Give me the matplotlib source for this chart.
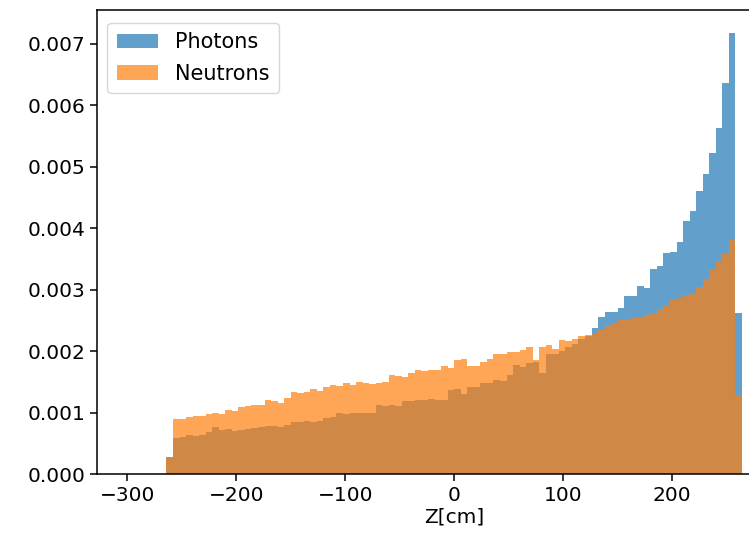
import numpy as np
import matplotlib
matplotlib.use("Agg")
import matplotlib.pyplot as plt

# Bin edges (cm)
bin_edges = np.arange(-264, 265, 6)

photons = [
    0.00028, 0.00058, 0.00060, 0.00063, 0.00062, 0.00064, 0.00069, 0.00076, 0.00072, 0.00074,
    0.00070, 0.00072, 0.00073, 0.00075, 0.00077, 0.00078, 0.00078, 0.00077, 0.00079, 0.00085,
    0.00084, 0.00086, 0.00085, 0.00087, 0.00091, 0.00092, 0.00099, 0.00098, 0.00100, 0.00099,
    0.00100, 0.00099, 0.00112, 0.00111, 0.00113, 0.00110, 0.00118, 0.00118, 0.00120, 0.00121,
    0.00122, 0.00120, 0.00121, 0.00137, 0.00138, 0.00130, 0.00142, 0.00142, 0.00148, 0.00148,
    0.00153, 0.00152, 0.00161, 0.00177, 0.00174, 0.00180, 0.00183, 0.00164, 0.00196, 0.00195,
    0.00200, 0.00206, 0.00212, 0.00220, 0.00224, 0.00237, 0.00256, 0.00264, 0.00264, 0.00270,
    0.00290, 0.00290, 0.00306, 0.00303, 0.00334, 0.00339, 0.00359, 0.00362, 0.00377, 0.00411,
    0.00428, 0.00460, 0.00488, 0.00522, 0.00563, 0.00636, 0.00718, 0.00262,
]

neutrons = [
    0.00028, 0.00089, 0.00089, 0.00092, 0.00094, 0.00095, 0.00097, 0.00100, 0.00098, 0.00104,
    0.00103, 0.00109, 0.00110, 0.00112, 0.00113, 0.00120, 0.00119, 0.00116, 0.00123, 0.00134,
    0.00132, 0.00134, 0.00138, 0.00135, 0.00142, 0.00145, 0.00144, 0.00148, 0.00145, 0.00150,
    0.00148, 0.00147, 0.00148, 0.00149, 0.00161, 0.00160, 0.00158, 0.00164, 0.00169, 0.00168,
    0.00170, 0.00169, 0.00176, 0.00172, 0.00186, 0.00187, 0.00175, 0.00176, 0.00183, 0.00187,
    0.00196, 0.00195, 0.00199, 0.00199, 0.00202, 0.00206, 0.00186, 0.00207, 0.00210, 0.00203,
    0.00218, 0.00216, 0.00219, 0.00224, 0.00226, 0.00228, 0.00235, 0.00243, 0.00246, 0.00251,
    0.00250, 0.00254, 0.00256, 0.00258, 0.00262, 0.00268, 0.00275, 0.00283, 0.00286, 0.00292,
    0.00295, 0.00305, 0.00318, 0.00332, 0.00345, 0.00358, 0.00380, 0.00129,
]

labels = ["Photons", "Neutrons"]
x_label = "Z[cm]"
x_ticks = [-300, -200, -100, 0, 100, 200]

centers = 0.5 * (bin_edges[:-1] + bin_edges[1:])

plt.rcParams["font.family"] = ["DejaVu Sans"]
plt.rcParams["font.size"] = 14.5

fig = plt.figure(figsize=(7.49, 5.41), dpi=100)
ax = fig.add_axes([97 / 749, 67 / 541, (811.4 - 97) / 749, 464 / 541])

ax.hist(centers, bins=bin_edges, weights=photons, alpha=0.7, color="#1f77b4", label=labels[0])
ax.hist(centers, bins=bin_edges, weights=neutrons, alpha=0.7, color="#ff7f0e", label=labels[1])

ax.set_xlim(-327.7, 327.7)
ax.set_ylim(0, 0.00755)
ax.set_xticks(x_ticks)
ax.set_yticks(np.arange(0, 0.0071, 0.001))
ax.yaxis.set_major_formatter(matplotlib.ticker.FormatStrFormatter("%.3f"))
ax.tick_params(length=5, width=1.1)
for s in ax.spines.values():
    s.set_linewidth(1.1)
ax.set_xlabel(x_label, labelpad=2)
ax.legend(loc="upper left", fontsize=15, labelspacing=0.55, borderpad=0.45,
          bbox_to_anchor=(0.0, 0.995))

fig.savefig("out.png", dpi=100)
